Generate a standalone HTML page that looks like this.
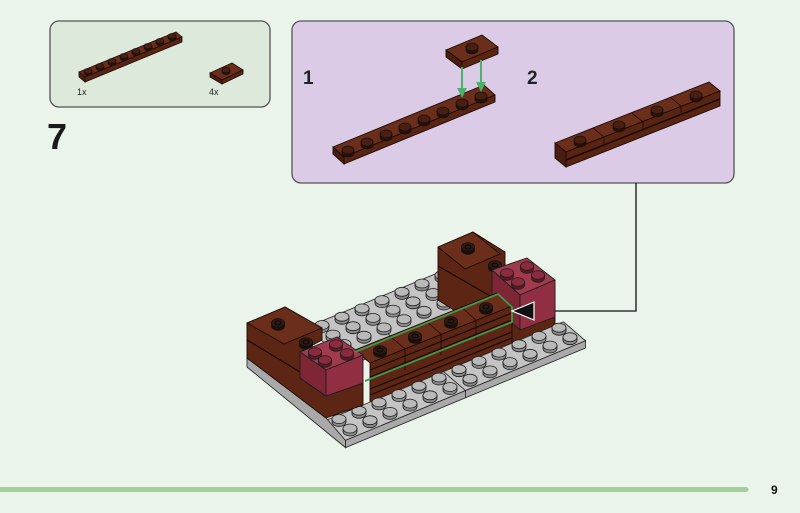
<!DOCTYPE html>
<html><head><meta charset="utf-8"><style>
html,body{margin:0;padding:0;background:#eaf4eb;}
svg{display:block;}
text{font-family:"Liberation Sans",sans-serif;}
</style></head><body>
<svg width="800" height="513" viewBox="0 0 800 513" xmlns="http://www.w3.org/2000/svg">
<defs>
<g id="sg"><path d="M-7,-3 v3 a7,4.5 0 0 0 14,0 v-3z" fill="#8a8a8a" stroke="#1e1e1e" stroke-width="0.8"/><ellipse cx="0" cy="-3" rx="7" ry="4.5" fill="#b9b9b9" stroke="#1e1e1e" stroke-width="0.8"/></g>
<g id="sb"><path d="M-6.5,-3 v3 a6.5,4.3 0 0 0 13,0 v-3z" fill="#1c0f0a" stroke="#111" stroke-width="0.8"/><ellipse cx="0" cy="-3" rx="6.5" ry="4.3" fill="#2e1a12" stroke="#111" stroke-width="0.8"/><ellipse cx="0" cy="-3" rx="3" ry="2" fill="none" stroke="#000" stroke-width="0.7"/></g>
<g id="sr"><path d="M-6.5,-3 v3 a6.5,4.3 0 0 0 13,0 v-3z" fill="#5a1a26" stroke="#1e1e1e" stroke-width="0.8"/><ellipse cx="0" cy="-3" rx="6.5" ry="4.3" fill="#8e2a3e" stroke="#1e1e1e" stroke-width="0.8"/></g>
<g id="sd"><path d="M-6,-3 v3 a6,4 0 0 0 12,0 v-3z" fill="#2a1008" stroke="#111" stroke-width="0.7"/><ellipse cx="0" cy="-3" rx="6" ry="4" fill="#4a1e10" stroke="#111" stroke-width="0.7"/></g>
<g id="ss"><path d="M-4,-2 v2 a4,2.6 0 0 0 8,0 v-2z" fill="#2a1008" stroke="#111" stroke-width="0.6"/><ellipse cx="0" cy="-2" rx="4" ry="2.6" fill="#4a1e10" stroke="#111" stroke-width="0.6"/></g>
</defs>

<!-- parts box -->
<rect x="50" y="21" width="220" height="86" rx="9" fill="#dce9db" stroke="#555" stroke-width="1.3"/>
<polygon points="79,72 176,32 182,37 85,77" fill="#6b2e1b" stroke="#1a0a05" stroke-width="0.8"/>
<polygon points="85,77 182,37 182,42 85,82" fill="#5a2413" stroke="#1a0a05" stroke-width="0.8"/>
<polygon points="79,72 85,77 85,82 79,77" fill="#4a1d0f" stroke="#1a0a05" stroke-width="0.8"/>
<use href="#ss" x="88" y="73"/><use href="#ss" x="100" y="68"/><use href="#ss" x="112" y="63"/><use href="#ss" x="124" y="58"/><use href="#ss" x="136" y="53"/><use href="#ss" x="148" y="48"/><use href="#ss" x="160" y="43"/><use href="#ss" x="172" y="38"/>
<polygon points="210,73 232,63 243,70 222,80" fill="#6b2e1b" stroke="#1a0a05" stroke-width="0.8"/>
<polygon points="210,73 222,80 222,84 210,77" fill="#4a1d0f" stroke="#1a0a05" stroke-width="0.8"/>
<polygon points="222,80 243,70 243,74 222,84" fill="#5a2413" stroke="#1a0a05" stroke-width="0.8"/>
<use href="#ss" x="226" y="72"/>
<text x="77" y="95" font-size="9" fill="#222">1x</text>
<text x="209" y="95" font-size="9" fill="#222">4x</text>
<text x="47" y="149" font-size="36" font-weight="bold" fill="#1a1a1a">7</text>

<!-- sub-assembly box -->
<rect x="292" y="21" width="442" height="162" rx="9" fill="#dccbe6" stroke="#555" stroke-width="1.3"/>
<text x="303" y="84" font-size="19" font-weight="bold" fill="#222">1</text>
<text x="527" y="84" font-size="19" font-weight="bold" fill="#222">2</text>
<polygon points="333,147 484,85 495,95 344,157" fill="#6b2e1b" stroke="#1a0a05" stroke-width="0.9"/>
<polygon points="344,157 495,95 495,102 344,164" fill="#5a2413" stroke="#1a0a05" stroke-width="0.9"/>
<polygon points="333,147 344,157 344,164 333,154" fill="#4a1d0f" stroke="#1a0a05" stroke-width="0.9"/>
<use href="#sd" x="348" y="153"/><use href="#sd" x="367" y="145"/><use href="#sd" x="386" y="137"/><use href="#sd" x="405" y="130"/><use href="#sd" x="424" y="122"/><use href="#sd" x="443" y="114"/><use href="#sd" x="462" y="106"/><use href="#sd" x="481" y="99"/>
<polygon points="446,50 482,35 498,47 462,62" fill="#6b2e1b" stroke="#1a0a05" stroke-width="0.9"/>
<polygon points="446,50 462,62 462,69 446,57" fill="#4a1d0f" stroke="#1a0a05" stroke-width="0.9"/>
<polygon points="462,62 498,47 498,54 462,69" fill="#5a2413" stroke="#1a0a05" stroke-width="0.9"/>
<use href="#sd" x="472" y="50"/>
<g stroke="#4caf6a" stroke-width="2" fill="#4caf6a">
<line x1="462" y1="67" x2="462" y2="90"/><polygon points="457,88 467,88 462,98" stroke="none"/>
<line x1="481" y1="60" x2="481" y2="84"/><polygon points="476,82 486,82 481,92" stroke="none"/>
</g>
<polygon points="555,143 709,82 720,91 566,152" fill="#6b2e1b" stroke="#1a0a05" stroke-width="0.9"/>
<polygon points="566,152 720,91 720,106 566,167" fill="#5a2413" stroke="#1a0a05" stroke-width="0.9"/>
<polygon points="555,143 566,152 566,167 555,158" fill="#4a1d0f" stroke="#1a0a05" stroke-width="0.9"/>
<line x1="566" y1="160" x2="720" y2="99" stroke="#1a0a05" stroke-width="1.5"/>
<g stroke="#1a0a05" stroke-width="0.8"><line x1="593" y1="128" x2="604" y2="137"/><line x1="632" y1="113" x2="643" y2="122"/><line x1="670" y1="97" x2="681" y2="106"/><line x1="604" y1="137" x2="604" y2="144"/><line x1="643" y1="122" x2="643" y2="129"/><line x1="681" y1="106" x2="681" y2="113"/></g>
<use href="#sd" x="580" y="143"/><use href="#sd" x="619" y="128"/><use href="#sd" x="657" y="113"/><use href="#sd" x="696" y="98"/>

<polyline points="636,183 636,311 530,311" fill="none" stroke="#111" stroke-width="1.3"/>

<!-- back gray plate -->
<polygon points="306.5,327.4 486.5,252.7 530.5,290.7 350.5,365.4" fill="#c4c4c4" stroke="#1e1e1e" stroke-width="0.8"/>
<line x1="356.5" y1="306.6" x2="400.5" y2="344.6" stroke="#1e1e1e" stroke-width="0.8"/>
<use href="#sg" x="322" y="328"/><use href="#sg" x="342" y="319.7"/><use href="#sg" x="362" y="311.4"/><use href="#sg" x="382" y="303.1"/><use href="#sg" x="402" y="294.8"/><use href="#sg" x="422" y="286.5"/><use href="#sg" x="442" y="278.2"/><use href="#sg" x="462" y="269.9"/>
<use href="#sg" x="333" y="337.5"/><use href="#sg" x="353" y="329.2"/><use href="#sg" x="373" y="320.9"/><use href="#sg" x="393" y="312.6"/><use href="#sg" x="413" y="304.3"/><use href="#sg" x="433" y="296"/><use href="#sg" x="453" y="287.7"/><use href="#sg" x="473" y="279.4"/>
<use href="#sg" x="344" y="347"/><use href="#sg" x="364" y="338.7"/><use href="#sg" x="384" y="330.4"/><use href="#sg" x="404" y="322.1"/><use href="#sg" x="424" y="313.8"/><use href="#sg" x="444" y="305.5"/><use href="#sg" x="464" y="297.2"/><use href="#sg" x="484" y="288.9"/>

<!-- right structure -->
<polygon points="438,247 473,232 505,252 505,265 555,285 555,337 520,352 438,300" fill="#5d2614" stroke="#1a0a05" stroke-width="0.9"/>
<polygon points="438,247 473,232 500,254 465,269" fill="#6b2e1b" stroke="#1a0a05" stroke-width="0.9"/>
<line x1="438" y1="266" x2="492" y2="297" stroke="#1a0a05" stroke-width="1.2"/>
<use href="#sb" x="468" y="250"/><use href="#sb" x="495" y="268"/>
<polygon points="492,270 527,258 555,280 520,295" fill="#a23a4e" stroke="#1e1e1e" stroke-width="0.9"/>
<polygon points="492,270 520,295 520,330 492,305" fill="#7e2536" stroke="#1e1e1e" stroke-width="0.9"/>
<polygon points="520,295 555,280 555,317 520,330" fill="#922e42" stroke="#1e1e1e" stroke-width="0.9"/>
<use href="#sr" x="507" y="276"/><use href="#sr" x="527" y="269"/><use href="#sr" x="518" y="285"/><use href="#sr" x="538" y="278"/>

<!-- beam -->
<polygon points="355,350 497,293 512,306 370,363" fill="#6b2e1b" stroke="#1a0a05" stroke-width="0.9"/>
<polygon points="370,363 512,306 512,345 370,402" fill="#5d2614" stroke="#1a0a05" stroke-width="0.9"/>
<g stroke="#1a0a05" stroke-width="1.2">
<line x1="370" y1="370" x2="512" y2="313"/><line x1="370" y1="377" x2="512" y2="320"/>
<line x1="370" y1="389" x2="512" y2="332"/><line x1="370" y1="395" x2="512" y2="338"/>
</g>
<g stroke="#1a0a05" stroke-width="0.8"><line x1="390" y1="336" x2="405" y2="349"/><line x1="426" y1="321" x2="441" y2="334"/><line x1="461" y1="307" x2="476" y2="320"/><line x1="405" y1="349" x2="405" y2="370"/><line x1="441" y1="334" x2="441" y2="355"/><line x1="476" y1="320" x2="476" y2="341"/></g>
<use href="#sb" x="380" y="353"/><use href="#sb" x="415" y="339"/><use href="#sb" x="451" y="324"/><use href="#sb" x="486" y="310"/>

<!-- front gray plate -->
<polygon points="323.5,421.4 563.5,321.8 585.5,340.8 345.5,440.4" fill="#c4c4c4" stroke="#1e1e1e" stroke-width="0.8"/>
<polygon points="345.5,440.4 585.5,340.8 585.5,348 345.5,447.6" fill="#a9a9a9" stroke="#1e1e1e" stroke-width="0.8"/>
<line x1="443.5" y1="371.6" x2="465.5" y2="390.6" stroke="#1e1e1e" stroke-width="0.8"/>
<line x1="465.5" y1="390.6" x2="465.5" y2="397.8" stroke="#1e1e1e" stroke-width="0.8"/>
<use href="#sg" x="339" y="422"/><use href="#sg" x="359" y="413.7"/><use href="#sg" x="379" y="405.4"/><use href="#sg" x="399" y="397.1"/><use href="#sg" x="419" y="388.8"/><use href="#sg" x="439" y="380.5"/><use href="#sg" x="459" y="372.2"/><use href="#sg" x="479" y="363.9"/><use href="#sg" x="499" y="355.6"/><use href="#sg" x="519" y="347.3"/><use href="#sg" x="539" y="339"/><use href="#sg" x="559" y="330.7"/>
<use href="#sg" x="350" y="431.5"/><use href="#sg" x="370" y="423.2"/><use href="#sg" x="390" y="414.9"/><use href="#sg" x="410" y="406.6"/><use href="#sg" x="430" y="398.3"/><use href="#sg" x="450" y="390"/><use href="#sg" x="470" y="381.7"/><use href="#sg" x="490" y="373.4"/><use href="#sg" x="510" y="365.1"/><use href="#sg" x="530" y="356.8"/><use href="#sg" x="550" y="348.5"/><use href="#sg" x="570" y="340.2"/>

<polygon points="247,358 326,418 345.5,440.4 345.5,447.6 247,367" fill="#a9a9a9" stroke="#1e1e1e" stroke-width="0.8"/>

<!-- left structure -->
<polygon points="247,323 285,307 322,328 322,340 300,352 300,378 326,396 363,383 363,405 326,418 247,358" fill="#5d2614" stroke="#1a0a05" stroke-width="0.9"/>
<polygon points="247,323 285,307 322,328 284,344" fill="#6b2e1b" stroke="#1a0a05" stroke-width="0.9"/>
<line x1="247" y1="340" x2="300" y2="372" stroke="#1a0a05" stroke-width="1.2"/>
<use href="#sb" x="278" y="326"/><use href="#sb" x="306" y="345"/>
<polygon points="300,352 337,337 363,355 326,370" fill="#a23a4e" stroke="#1e1e1e" stroke-width="0.9"/>
<polygon points="300,352 326,370 326,396 300,378" fill="#7e2536" stroke="#1e1e1e" stroke-width="0.9"/>
<polygon points="326,370 363,355 363,383 326,396" fill="#922e42" stroke="#1e1e1e" stroke-width="0.9"/>
<use href="#sr" x="315" y="355"/><use href="#sr" x="336" y="347"/><use href="#sr" x="325" y="363"/><use href="#sr" x="347" y="356"/>

<polyline points="355,352 498,294 512,307 512,322 365,381" fill="none" stroke="#3f9a4e" stroke-width="1.8"/>
<polygon points="512,311 534,302 534,320" fill="#111" stroke="#fff" stroke-width="1.2"/>

<line x1="0" y1="489.5" x2="746" y2="489.5" stroke="#a3cf98" stroke-width="5" stroke-linecap="round"/>
<text x="771" y="494" font-size="12" font-weight="bold" fill="#111">9</text>
</svg>
</body></html>
